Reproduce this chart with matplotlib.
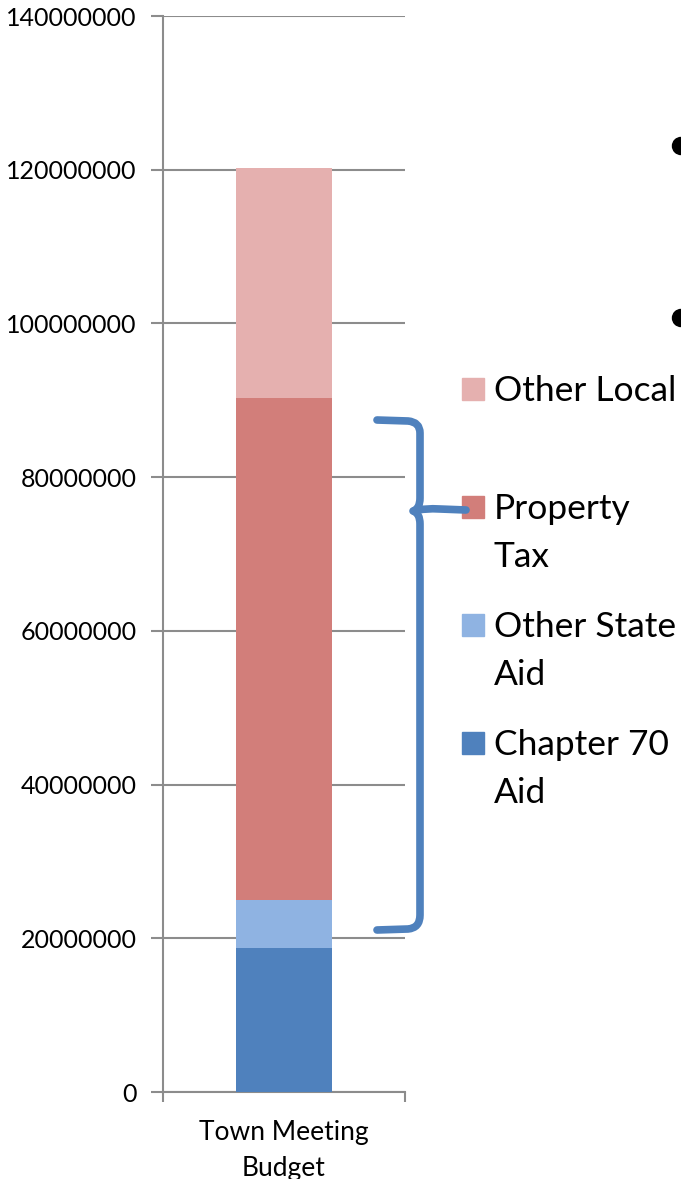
import matplotlib
matplotlib.use("Agg")
import matplotlib.pyplot as plt
from matplotlib.patches import Rectangle, Ellipse, PathPatch
from matplotlib.path import Path

plt.rcParams['font.family'] = ['Lato', 'DejaVu Sans']

# data (bottom to top of the stack)
series = ["Chapter 70 Aid", "Other State Aid", "Property Tax", "Other Local"]
legend_labels = ["Chapter 70\nAid", "Other State\nAid", "Property\nTax", "Other Local"]
values = [18800000, 6200000, 65300000, 29900000]
colors = ["#4F81BD", "#8FB3E2", "#D27E7A", "#E5B0AF"]
category = ["Town Meeting\nBudget"]
yticks = [0, 20000000, 40000000, 60000000, 80000000, 100000000, 120000000, 140000000]

W, H = 681, 1179
fig = plt.figure(figsize=(W / 100, H / 100), dpi=100)

def fx(px):
    return px / W

def fy(py):
    return 1 - py / H

ax = fig.add_axes([fx(163), fy(1092), fx(405) - fx(163), fy(16) - fy(1092)])

grid_c = "#8C8C8C"
bottom = 0
for v, c in zip(values, colors):
    ax.bar(0, v, width=0.4, bottom=bottom, color=c, zorder=3)
    bottom += v

ax.set_xlim(-0.5, 0.5)
ax.set_ylim(0, 140000000)
ax.set_yticks(yticks)
ax.set_yticklabels([str(t) for t in yticks])
ax.yaxis.grid(True, color=grid_c, linewidth=1.5, zorder=0)
ax.set_xticks([0])
ax.set_xticklabels(category, linespacing=1.55)
ax.set_xticks([-0.5, 0.5], minor=True)
ax.tick_params(axis='x', which='major', length=0, pad=20, labelsize=19)
ax.tick_params(axis='x', which='minor', length=7, width=1.5, color=grid_c, direction='out')
ax.tick_params(axis='y', length=9, width=1.5, color=grid_c, direction='out', pad=10, labelsize=18)
for s in ['top', 'right']:
    ax.spines[s].set_visible(False)
for s in ['left', 'bottom']:
    ax.spines[s].set_color(grid_c)
    ax.spines[s].set_linewidth(1.5)

# legend drawn by hand, top entry first
ys = [378, 496, 614, 732]
for lab, c, y in zip(legend_labels[::-1], colors[::-1], ys):
    fig.add_artist(Rectangle((fx(462), fy(y + 22)), fx(22), fy(y) - fy(y + 22),
                             transform=fig.transFigure, color=c))
    fig.text(fx(494), fy(y - 3), lab, fontsize=25.5, va='top', ha='left',
             linespacing=1.6)

# curly brace around property tax
pts = [(377, 420), (408, 421), (420, 422), (420, 433), (420, 498),
       (420, 509), (413, 511),
       (420, 513), (420, 524), (420, 915), (420, 928), (408, 929), (377, 930)]
codes = [Path.MOVETO, Path.LINETO, Path.CURVE3, Path.CURVE3, Path.LINETO,
         Path.CURVE3, Path.CURVE3,
         Path.CURVE3, Path.CURVE3, Path.LINETO, Path.CURVE3, Path.CURVE3, Path.LINETO]
brace = Path([(fx(x), fy(y)) for x, y in pts], codes)
fig.add_artist(PathPatch(brace, transform=fig.transFigure, fill=False,
                         edgecolor="#4F81BD", linewidth=5.5, capstyle='round',
                         joinstyle='round'))
arm = Path([(fx(x), fy(y)) for x, y in [(414, 511), (425, 508), (440, 509), (466, 510)]],
           [Path.MOVETO, Path.CURVE3, Path.CURVE3, Path.LINETO])
fig.add_artist(PathPatch(arm, transform=fig.transFigure, fill=False,
                         edgecolor="#4F81BD", linewidth=5.5, capstyle='round'))

# cut-off bullets from the slide
for by in [146, 318]:
    fig.add_artist(Ellipse((fx(681), fy(by)), fx(17), fy(0) - fy(17),
                           transform=fig.transFigure, color="black"))

fig.savefig("out.png", dpi=100)
